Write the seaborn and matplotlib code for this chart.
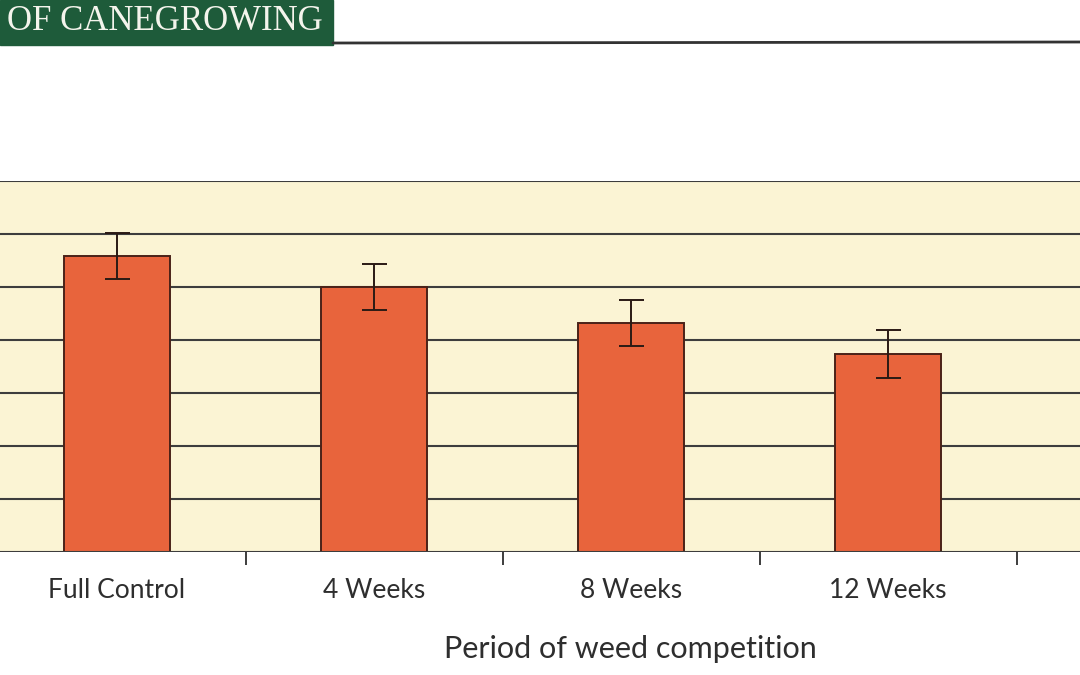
import matplotlib
matplotlib.use("Agg")
import matplotlib.pyplot as plt
import seaborn as sns
import pandas as pd
import numpy as np

# values (gridline units x10, axis labels are cropped away)
treatments = ["Full Control", "4 Weeks", "8 Weeks", "12 Weeks"]
yield_vals = [55.8, 50.0, 43.2, 37.4]
yield_err = [4.3, 4.4, 4.3, 4.5]
grid_levels = [0, 10, 20, 30, 40, 50, 60, 70]

df = pd.DataFrame({"treatment": treatments, "value": yield_vals})

sns.set_theme(style="white")
plt.rcParams["font.family"] = ["Lato", "DejaVu Sans"]

fig = plt.figure(figsize=(10.8, 6.75), dpi=100)
fig.patch.set_facecolor("white")

ax = fig.add_axes([0.0, 1 - 552 / 675, 1.0, (552 - 181) / 675])
ax.set_facecolor("#FBF4D4")

sns.barplot(data=df, x="treatment", y="value", color="#E8643C", saturation=1,
            width=0.41, edgecolor="#4a2218", linewidth=1.4, ax=ax, zorder=3)
ax.errorbar(np.arange(len(treatments)), yield_vals, yerr=yield_err, fmt="none",
            ecolor="#2a1a14", elinewidth=1.4, capsize=9, capthick=1.4, zorder=4)

for lvl in grid_levels[1:]:
    ax.axhline(lvl, color="#3d3d3d", linewidth=1.5, zorder=1)
ax.axhline(0, color="#3d3d3d", linewidth=1.5, zorder=5)

ax.set_ylim(0, 70)
ax.set_xlim(-117 / 257, (1080 - 117) / 257)
ax.set_yticks([])
for s in ["left", "right", "top", "bottom"]:
    ax.spines[s].set_visible(False)

ax.set_xticks(range(len(treatments)))
ax.set_xticklabels(treatments, fontsize=19, color="#2e2e2e")
ax.tick_params(axis="x", which="major", length=0, pad=19)
ax.set_xticks([0.5, 1.5, 2.5, 3.5], minor=True)
ax.tick_params(axis="x", which="minor", length=9, width=1.4, color="#3d3d3d",
               direction="out", bottom=True)
ax.set_xlabel("Period of weed competition", fontsize=22, color="#2e2e2e")
ax.set_ylabel("")
ax.xaxis.set_label_coords(630 / 1080, -0.225)

# header banner from the publication page
fig.patches.append(plt.Rectangle((0, 1 - 45 / 675), 333 / 1080, 45 / 675,
                                 transform=fig.transFigure, color="#1E5B3A", zorder=0))
fig.text(7 / 1080, 1 - 22 / 675, "OF CANEGROWING", color="#F4F4EC", fontsize=25,
         family="Liberation Serif", va="center", ha="left")
fig.lines.append(plt.Line2D([333 / 1080, 1.0], [1 - 43 / 675, 1 - 42 / 675],
                            transform=fig.transFigure, color="#333333", linewidth=2))

fig.savefig("out.png", dpi=100)
